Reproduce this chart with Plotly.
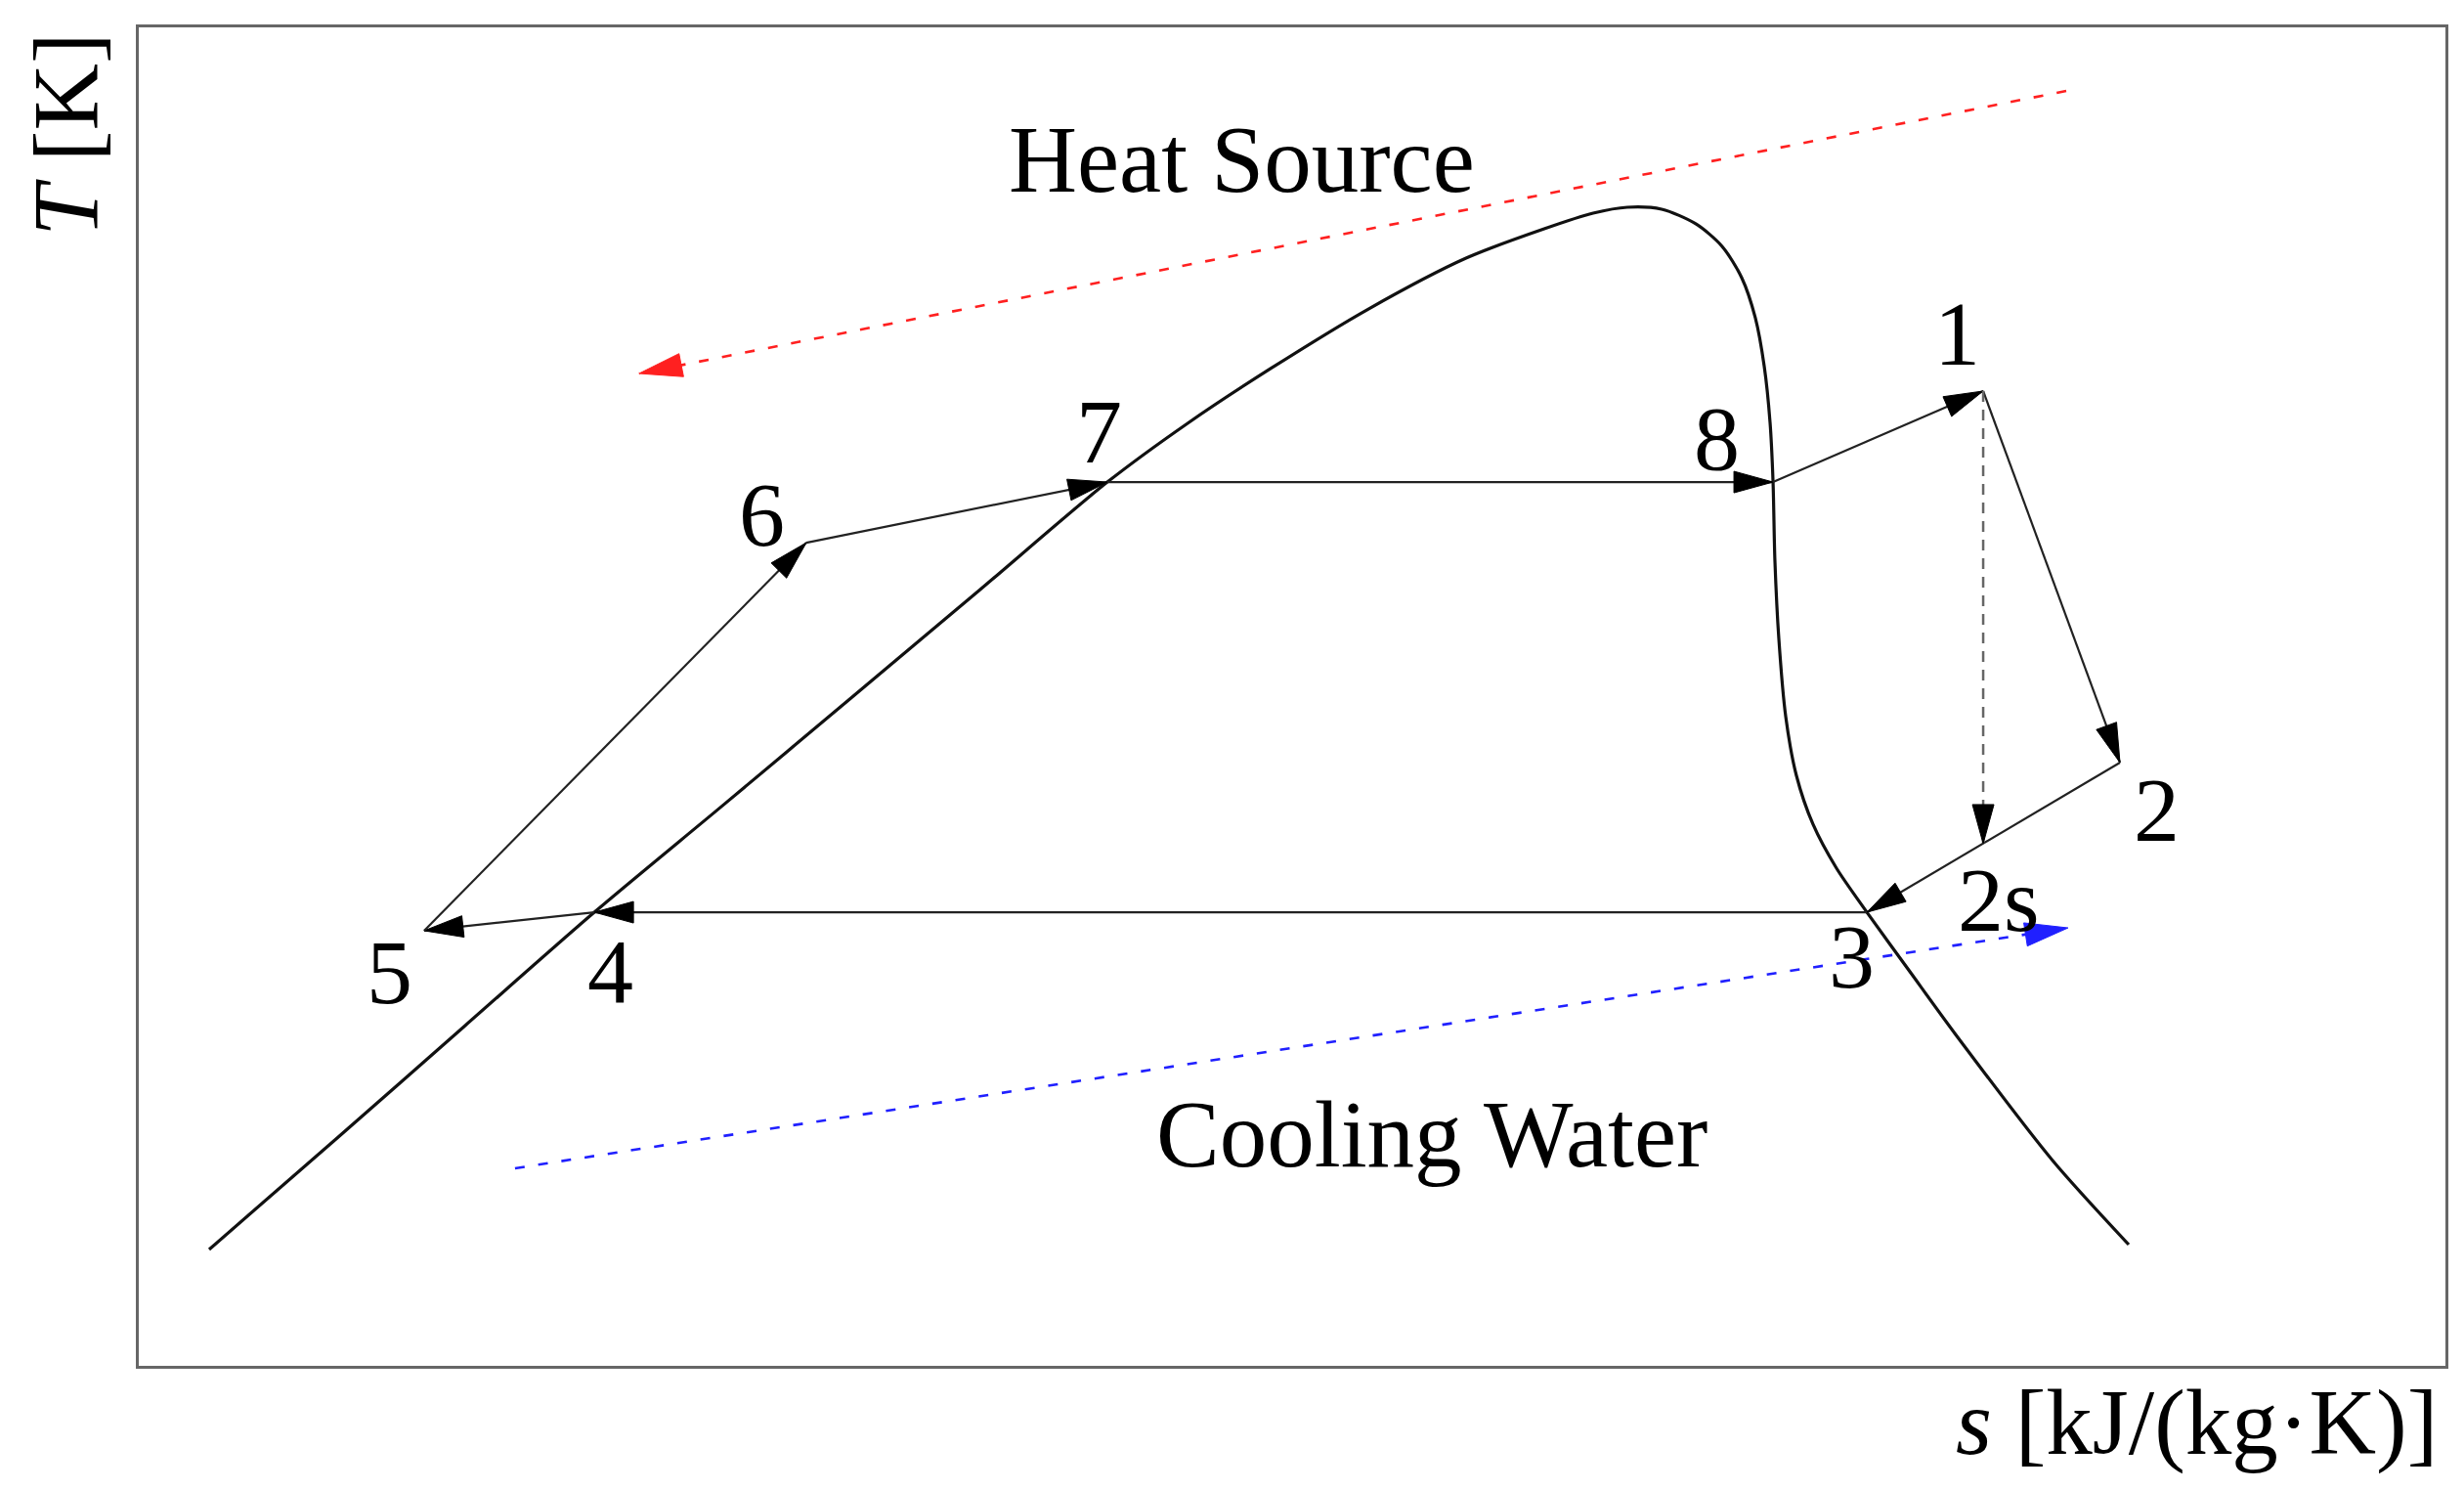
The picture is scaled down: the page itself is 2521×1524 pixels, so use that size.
import math
import plotly.graph_objects as go

# ---------------- data (arbitrary s, T units) ----------------
dome_s = [0.305, 0.860, 1.415, 1.975, 2.534, 3.085, 3.644, 4.199, 4.547, 4.907, 5.331,
          5.754, 6.093, 6.305, 6.453, 6.602, 6.750, 6.864, 6.949, 7.008, 7.047, 7.072,
          7.085, 7.093, 7.110, 7.140, 7.186, 7.258, 7.360, 7.492, 7.682, 7.873, 8.297, 8.627]
dome_T = [0.869, 1.702, 2.542, 3.389, 4.190, 4.986, 5.794, 6.603, 7.042, 7.451, 7.896,
          8.276, 8.495, 8.612, 8.656, 8.641, 8.532, 8.364, 8.130, 7.831, 7.465, 7.049,
          6.603, 6.019, 5.435, 4.850, 4.412, 4.047, 3.718, 3.389, 2.936, 2.484, 1.534, 0.906]

state_names = ["1", "2", "2s", "3", "4", "5", "6", "7", "8"]
state_s = [7.996, 8.589, 7.996, 7.492, 1.975, 1.237, 2.894, 4.199, 7.085]
state_T = [7.283, 4.507, 3.901, 3.389, 3.389, 3.251, 6.150, 6.603, 6.603]

solid_steps = [("3", "4"), ("4", "5"), ("5", "6"), ("6", "7"), ("7", "8"),
               ("8", "1"), ("1", "2"), ("2", "3")]
dashed_steps = [("1", "2s")]

heat_s = [8.356, 2.169]
heat_T = [9.525, 7.414]
cool_s = [1.631, 8.364]
cool_T = [1.476, 3.272]

# ---------------- layout constants ----------------
# page body has an 8px margin, so the figure is shifted by 8px
ML, MR, MT, MB = 134, 19, 20, 127
PLOT_W, PLOT_H = 2360, 1369
W, H = ML + PLOT_W + MR, MT + PLOT_H + MB
XR = [0, 10]
YR = [0, 10]
PX_S = PLOT_W / (XR[1] - XR[0])
PX_T = PLOT_H / (YR[1] - YR[0])
FONT = "Liberation Serif"

pt = {n: (s, t) for n, s, t in zip(state_names, state_s, state_T)}

fig = go.Figure()


def head(p, q, color, L=40, Wd=11):
    dx = (q[0] - p[0]) * PX_S
    dy = (q[1] - p[1]) * PX_T
    n = math.hypot(dx, dy)
    ux, uy = dx / n, dy / n
    bx, by = -ux * L, -uy * L
    c1 = (bx - uy * Wd, by + ux * Wd)
    c2 = (bx + uy * Wd, by - ux * Wd)
    xs = [q[0], q[0] + c1[0] / PX_S, q[0] + c2[0] / PX_S, q[0]]
    ys = [q[1], q[1] + c1[1] / PX_T, q[1] + c2[1] / PX_T, q[1]]
    fig.add_trace(go.Scatter(x=xs, y=ys, mode="lines", fill="toself", fillcolor=color,
                             line=dict(color=color, width=1), hoverinfo="skip"))


# saturation dome
fig.add_trace(go.Scatter(x=dome_s, y=dome_T, mode="lines",
                         line=dict(color="#111111", width=3.2, shape="spline", smoothing=0.8),
                         hoverinfo="skip"))

# heat source / cooling water
for xs, ys, col in [(heat_s, heat_T, "#ff2020"), (cool_s, cool_T, "#2020ff")]:
    fig.add_trace(go.Scatter(x=xs, y=ys, mode="lines",
                             line=dict(color=col, width=2.6, dash="10px,14px"),
                             hoverinfo="skip"))
    head((xs[0], ys[0]), (xs[1], ys[1]), col, L=44, Wd=12)

# cycle processes
for a, b in solid_steps:
    p, q = pt[a], pt[b]
    fig.add_trace(go.Scatter(x=[p[0], q[0]], y=[p[1], q[1]], mode="lines",
                             line=dict(color="#222222", width=2.2), hoverinfo="skip"))
    head(p, q, "#000000")
for a, b in dashed_steps:
    p, q = pt[a], pt[b]
    fig.add_trace(go.Scatter(x=[p[0], q[0]], y=[p[1], q[1]], mode="lines",
                             line=dict(color="#666666", width=2.5, dash="11px,8px"),
                             hoverinfo="skip"))
    head(p, q, "#000000")

# state labels (pixel offsets: right, down)
label_off = {"1": (-27, -59), "2": (37, 48), "2s": (16, 57), "3": (-16, 45),
             "4": (16, 60), "5": (-35, 42), "6": (-45, -29), "7": (-8, -52), "8": (-58, -45)}
for n in state_names:
    ox, oy = label_off[n]
    fig.add_annotation(x=pt[n][0], y=pt[n][1], xref="x", yref="y", text=n, showarrow=False,
                       xshift=ox, yshift=-oy, xanchor="center", yanchor="middle",
                       font=dict(family=FONT, size=94, color="black"))

# text labels
fig.add_annotation(x=0.478, y=0.9007, xref="paper", yref="paper", text="Heat Source",
                   showarrow=False, xanchor="center", yanchor="middle",
                   font=dict(family=FONT, size=97, color="black"))
fig.add_annotation(x=0.5606, y=0.1724, xref="paper", yref="paper", text="Cooling Water",
                   showarrow=False, xanchor="center", yanchor="middle",
                   font=dict(family=FONT, size=97, color="black"))
# axis titles
fig.add_annotation(x=-0.0314, y=0.9197, xref="paper", yref="paper", text="<i>T</i> [K]",
                   textangle=-90, showarrow=False, xanchor="center", yanchor="middle",
                   font=dict(family=FONT, size=95, color="black"))
fig.add_annotation(x=0.892, y=-0.0424, xref="paper", yref="paper",
                   text="<i>s</i> [kJ/(kg·K)]",
                   showarrow=False, xanchor="center", yanchor="middle",
                   font=dict(family=FONT, size=95, color="black"))

axis_common = dict(showgrid=False, zeroline=False, showticklabels=False, ticks="",
                   showline=True, linecolor="#666666", linewidth=3, mirror=True,
                   fixedrange=True)
fig.update_layout(
    width=W, height=H,
    margin=dict(l=ML, r=MR, t=MT, b=MB, pad=0),
    paper_bgcolor="white", plot_bgcolor="white",
    showlegend=False, hovermode=False,
    xaxis=dict(range=XR, **axis_common),
    yaxis=dict(range=YR, **axis_common),
)

fig.write_html("out.html")
